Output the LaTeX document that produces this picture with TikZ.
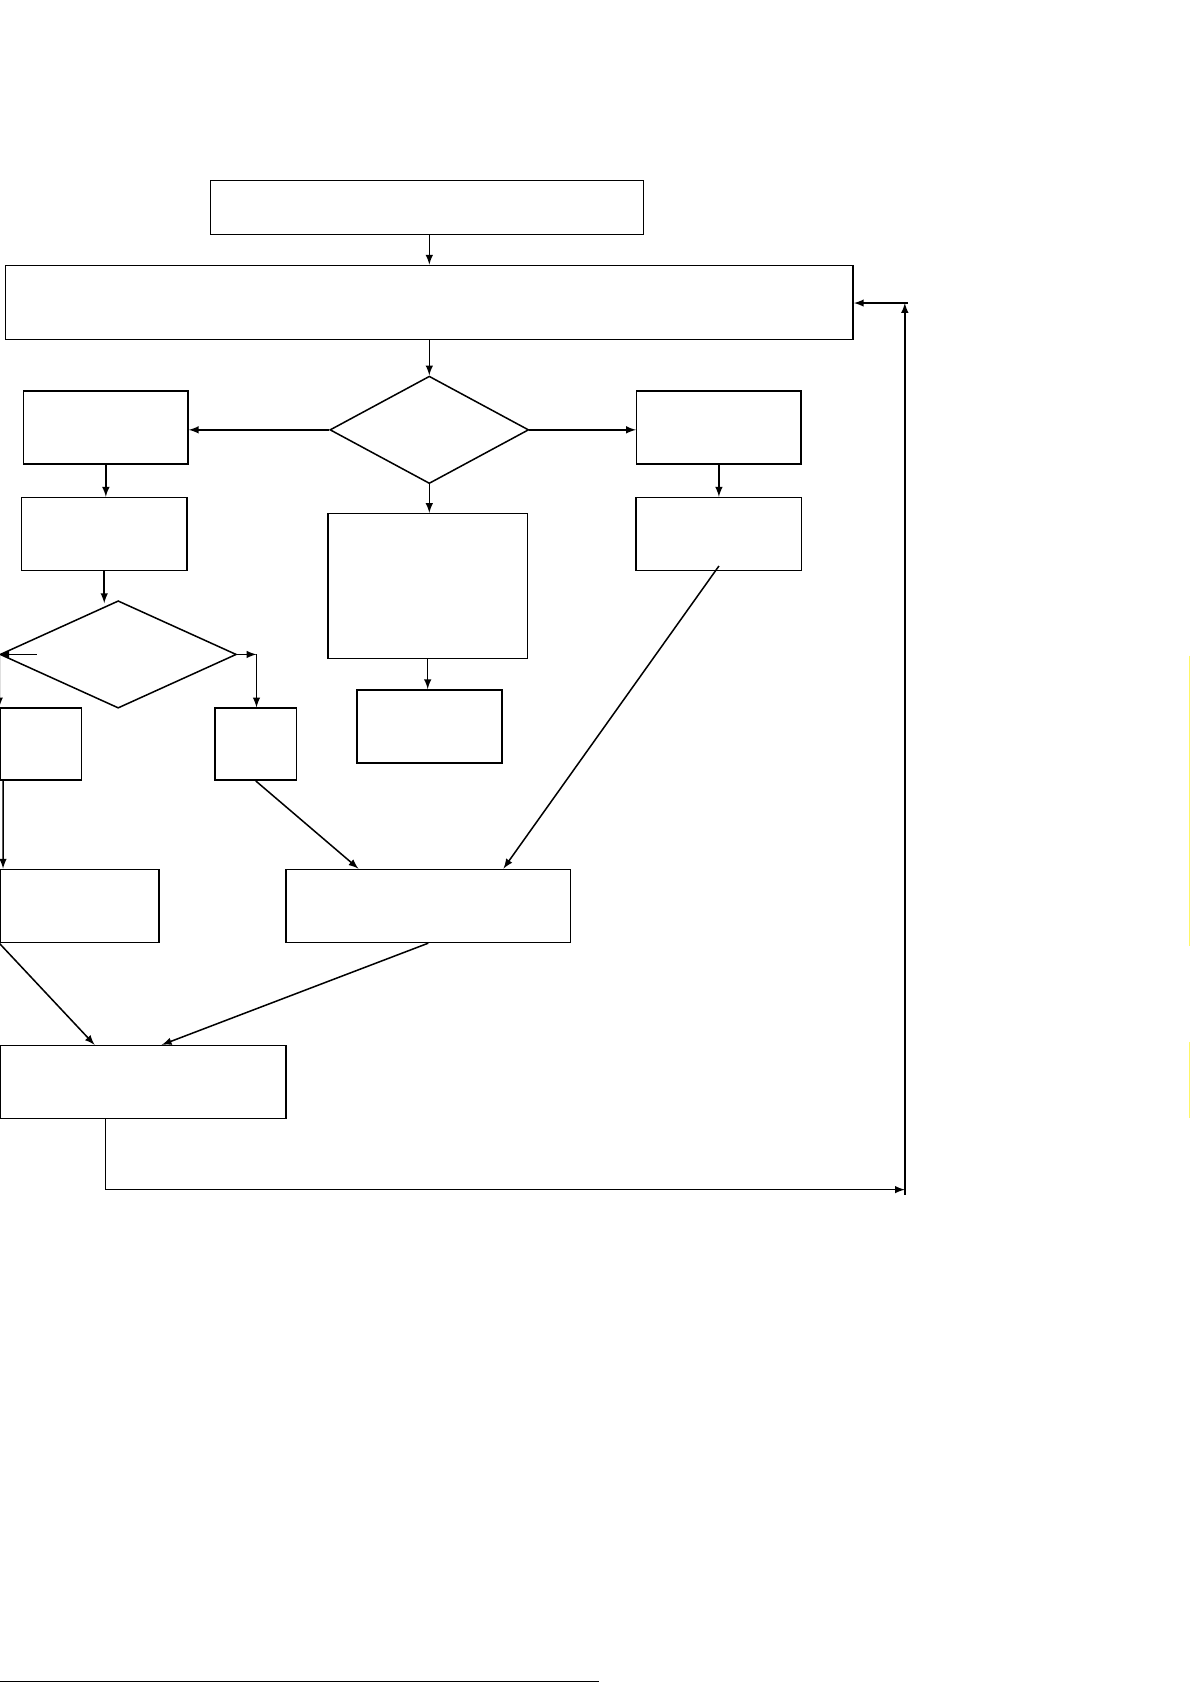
\documentclass[tikz,border=0pt]{standalone}
\usetikzlibrary{shapes.geometric}
\tikzset{
    box/.style={draw, thick, minimum height=1.36cm, inner sep=0pt},
    decision/.style={draw, thick, diamond, inner sep=0pt, minimum height=2cm},
    flow/.style={->, thick, >=latex}
}
\begin{document}
\begin{tikzpicture}[x=0.02cm, y=-0.02cm]
    \useasboundingbox (0,0) rectangle (1108,1568);

    % Boxes of the chart
    \node[box, minimum width=8.06cm, minimum height=1cm] (start) at (397.5,193) {};
    \node[box, minimum width=15.78cm, minimum height=1.38cm] (main) at (399.5,281.5) {};
    \node[decision, minimum width=3.7cm] (check) at (399.5,400) {};
    \node[box, minimum width=3.06cm] (leftA) at (98.5,398) {};
    \node[box, minimum width=3.06cm] (rightA) at (669,398) {};
    \node[box, minimum width=3.08cm] (leftB) at (97,497) {};
    \node[box, minimum width=3.08cm] (rightB) at (669,497) {};
    \node[box, minimum width=3.72cm, minimum height=2.7cm] (midA) at (398,545.5) {};
    \node[box, minimum width=2.7cm] (midB) at (399.5,676) {};
    \node[decision, minimum width=4.4cm] (subcheck) at (110,609) {};
    \node[box, minimum width=1.52cm, minimum height=1.34cm] (yes) at (38,692.5) {};
    \node[box, minimum width=1.52cm, minimum height=1.34cm] (no) at (238,692.5) {};
    \node[box, minimum width=2.96cm] (leftC) at (74,843) {};
    \node[box, minimum width=5.3cm] (merge) at (398.5,843) {};
    \node[box, minimum width=5.32cm] (result) at (133,1007) {};

    % Connectors
    \draw[flow] (start.south -| main.north) -- (main.north);
    \draw[flow] (main) -- (check);
    \draw[flow] (check.west) -- (check.west -| leftA.east);
    \draw[flow] (check.east) -- (check.east -| rightA.west);
    \draw[flow] (check.south) -- (check.south |- midA.north);
    \draw[flow] (leftA) -- (leftA |- leftB.north);
    \draw[flow] (rightA) -- (rightA |- rightB.north);
    \draw[flow] (leftB) -- ([yshift=-0.06cm]leftB |- subcheck.north);
    \draw[flow] (midA) -- (midA |- midB.north);
    \draw[flow] (subcheck.west) ++(35,0) -- (subcheck.west);
    \draw[flow] (subcheck.west) -- (yes.north west);
    \draw[flow] (subcheck.east) -- ++(18,0) coordinate (turn);
    \draw[flow] (turn) -- (turn |- no.north);
    \draw[flow] ([xshift=2]yes.south west) -- ([xshift=2]leftC.north west);
    \draw[flow] (no.south) -- ([xshift=-1.3cm]merge.north);
    \draw[flow] ([yshift=0.1cm]rightB.south) -- ([xshift=1.4cm]merge.north);
    \draw[flow] (leftC.south west) -- ([xshift=-0.9cm]result.north);
    \draw[flow] (merge.south) -- ([xshift=0.35cm]result.north);

    % Feedback loop
    \coordinate (corner) at (842,1107);
    \draw[flow] (result.south -| 98,0) -- (98,1107) -- (corner);
    \draw[flow] (842,1112) -- (842,282);
    \draw[flow] (845,282) -- (main.east |- 0,282);

    % Stray marks on the page
    \draw[yellow!60, thick] (1107,610) -- (1107,880) (1107,970) -- (1107,1040);
    \draw[thin] (0,1565) -- (557,1565);
\end{tikzpicture}
\end{document}
